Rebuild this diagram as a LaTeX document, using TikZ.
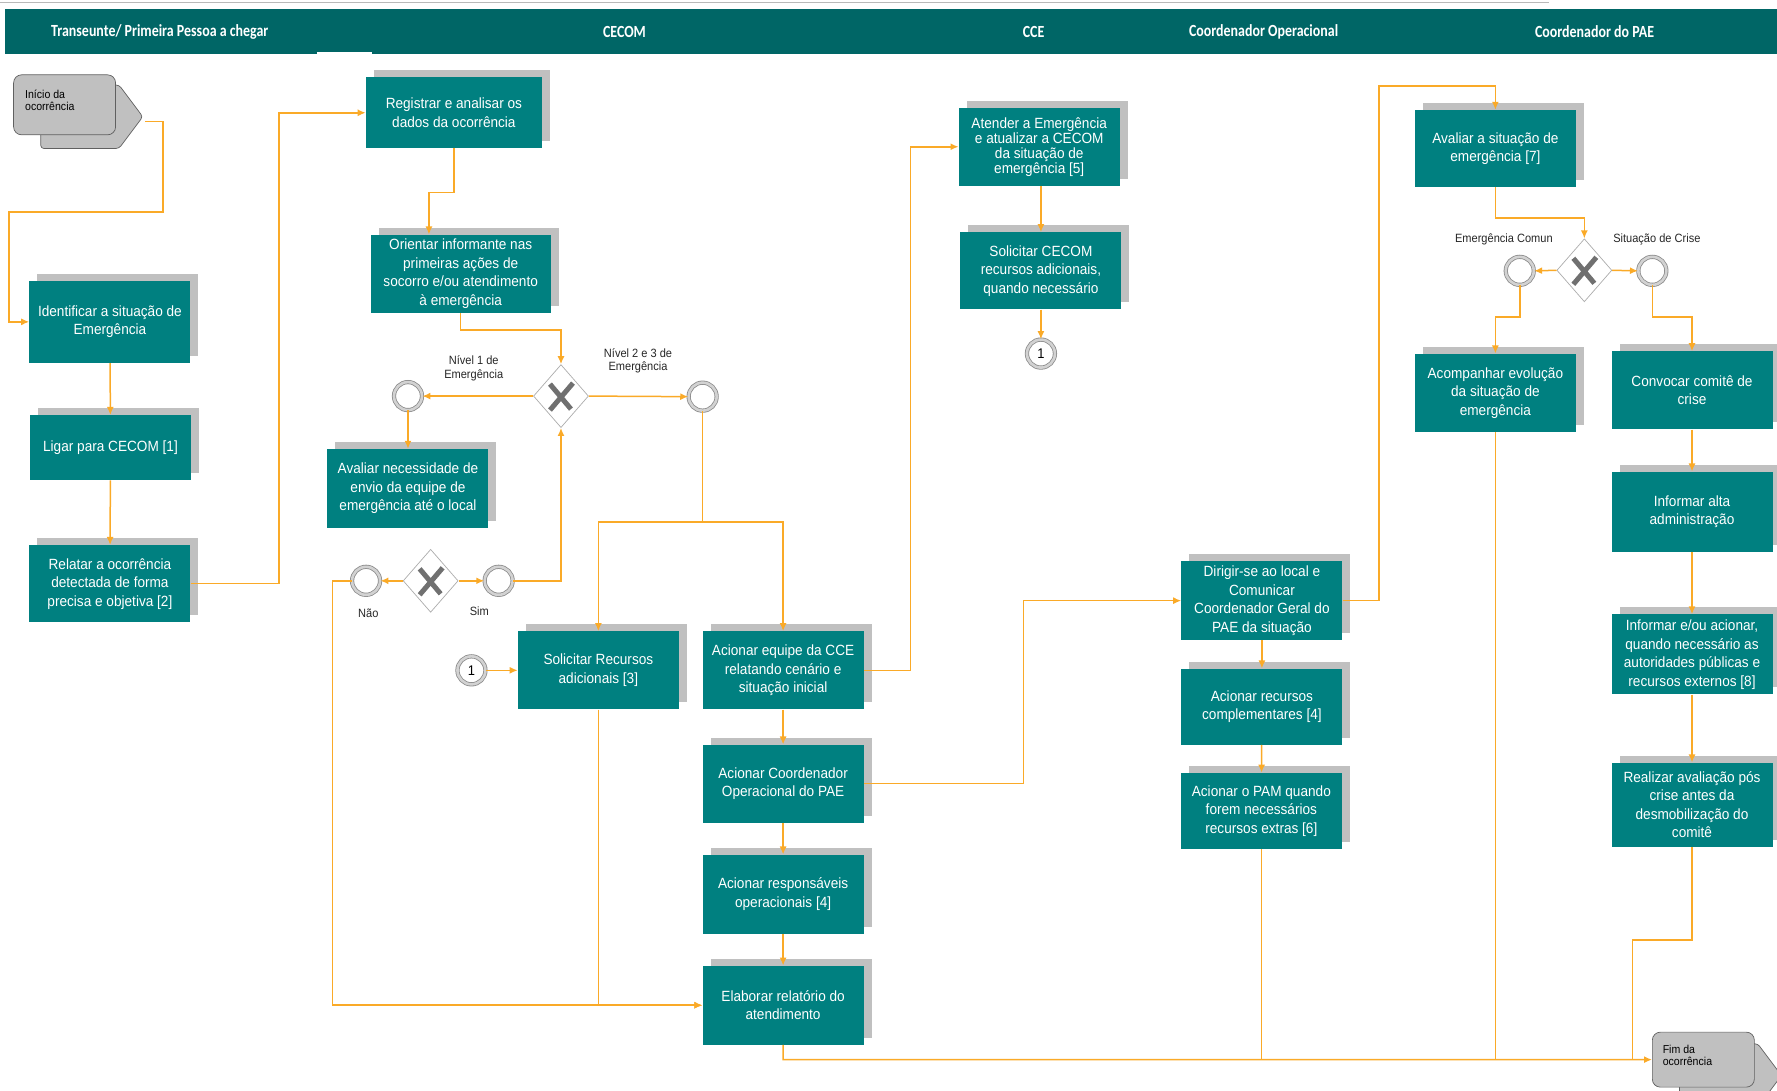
\documentclass[tikz,border=0pt]{standalone}
\usepackage{fontspec}
\setmainfont{Liberation Sans}
\newfontfamily\boxfont[FakeStretch=0.92]{Liberation Sans}
\newfontfamily\headfont[FakeStretch=0.82]{Carlito}
\usetikzlibrary{shapes.geometric,shadows,arrows.meta,calc}
\definecolor{headteal}{RGB}{0,102,102}
\definecolor{boxteal}{RGB}{0,128,128}
\definecolor{shadegray}{RGB}{192,192,192}
\definecolor{flowline}{RGB}{250,170,40}
\definecolor{gatex}{RGB}{112,112,112}
\begin{document}
\begin{tikzpicture}[x=1.1333pt,y=-1.1333pt,>={Latex[length=8pt,width=7pt]},
  task/.style={rectangle,fill=boxteal,text=white,align=center,inner sep=1pt,
    minimum width=161pt,minimum height=79pt,
    font=\boxfont\fontsize{14.8}{18.5}\selectfont,
    general shadow={fill=shadegray,shadow xshift=8pt,shadow yshift=7pt}},
  flow/.style={draw=flowline,line width=1.5pt,->},
  link/.style={draw=flowline,line width=1.5pt},
  evt/.style={circle,fill=white,draw=gray!90,double=gray!35,double distance=2.6pt,
    line width=0.8pt,minimum size=28pt,inner sep=0pt,font=\boxfont\fontsize{14}{16}\selectfont},
  gate/.style={diamond,fill=white,draw=gray!65,line width=0.7pt,minimum width=55pt,
    minimum height=63pt,inner sep=0pt,
    path picture={\draw[gatex,line width=5pt]
      ([shift={(-11pt,-14pt)}]path picture bounding box.center) -- ([shift={(12pt,13pt)}]path picture bounding box.center)
      ([shift={(-11pt,12pt)}]path picture bounding box.center) -- ([shift={(10pt,-13pt)}]path picture bounding box.center);}},
  lab/.style={font=\boxfont\fontsize{12}{13.5}\selectfont,align=center,text=black!85},
  lane/.style={font=\headfont\bfseries\fontsize{17}{20}\selectfont,text=white},
  term/.style={rectangle,rounded corners=8pt,fill=shadegray,draw=gray!75!black,
    line width=0.7pt,minimum width=102pt,minimum height=60pt},
  termback/.style={fill=shadegray,draw=gray!75!black,line width=0.7pt,rounded corners=3pt},
  termtxt/.style={font=\boxfont\fontsize{11.5}{12.5}\selectfont,align=left,anchor=north west,inner sep=0pt}]

  \useasboundingbox (0,0) rectangle (1568,962);
  \clip (0,0) rectangle (1568,962);
  \draw[gray!55,line width=1.5pt] (0,2) -- (1367,2);
  \fill[headteal] (4,8) rectangle (1568,48);
  \fill[white] (280,46) rectangle (328,48);
  \node[lane] (lane1) at (141,28) {Transeunte/ Primeira Pessoa a chegar};
  \node[lane] (lane2) at (551,28) {CECOM};
  \node[lane] (lane3) at (912,28) {CCE};
  \node[lane] (lane4) at (1115,28) {Coordenador Operacional};
  \node[lane] (lane5) at (1407,28) {Coordenador do PAE};

  \draw[termback] (36,75) -- (105,75) -- (126,103) -- (105,131) -- (36,131) -- cycle;
  \node[term] (inicio) at (57,92.5) {};
  \node[termtxt] (iniciotxt) at (22,79) {Início da\\ocorrência};
  \coordinate (iniciotip) at (128,107);

  \draw[termback] (1482,921) -- (1551,921) -- (1572,949) -- (1551,977) -- (1482,977) -- cycle;
  \node[term,minimum height=55pt] (fim) at (1503,935) {};
  \node[termtxt] (fimtxt) at (1467,922) {Fim da\\ocorrência};

  \node[task,minimum height=82pt] (identificar) at (97,284) {Identificar  a situação de\\Emergência};
  \node[task,minimum height=65pt] (ligar) at (97.5,395) {Ligar para CECOM [1]};
  \node[task,minimum height=77pt] (relatar) at (97,515) {Relatar  a ocorrência\\detectada de forma\\precisa e objetiva [2]};
  \node[task,minimum width=176pt,minimum height=71pt] (registrar) at (400.5,99.5) {Registrar e analisar os\\dados da ocorrência};
  \node[task,minimum width=180pt,minimum height=78pt] (orientar) at (406.5,241.5) {Orientar informante nas\\primeiras ações de\\socorro e/ou atendimento\\à emergência};
  \node[task] (avaliarnec) at (360,431) {Avaliar necessidade de\\envio da equipe de\\emergência até o local};
  \node[task,minimum height=78pt] (solicitar) at (528,591.5) {Solicitar Recursos\\adicionais [3]};
  \node[task,minimum height=78pt] (acequipe) at (691,591.5) {Acionar equipe da CCE\\relatando cenário e\\situação inicial};
  \node[task,minimum height=78pt] (accoord) at (691,691.5) {Acionar Coordenador\\Operacional do PAE};
  \node[task] (acresp) at (691,789) {Acionar responsáveis\\operacionais [4]};
  \node[task] (elaborar) at (691,887) {Elaborar relatório do\\atendimento};
  \node[task,minimum height=78pt,font=\boxfont\fontsize{14.8}{15}\selectfont] (atender) at (917,129.5) {Atender a Emergência\\e atualizar  a CECOM\\da situação de\\emergência [5]};
  \node[task,minimum height=77pt] (solcecom) at (918.5,239) {Solicitar CECOM\\recursos adicionais,\\quando necessário};
  \node[task] (dirigir) at (1113.5,530) {Dirigir-se ao local e\\Comunicar\\Coordenador Geral do\\PAE da situação};
  \node[task,minimum height=76pt] (acrecursos) at (1113.5,623.5) {Acionar recursos\\complementares [4]};
  \node[task,minimum height=76pt] (acpam) at (1113,715.5) {Acionar o PAM quando\\forem necessários\\recursos extras [6]};
  \node[task,minimum height=77pt] (avaliarsit) at (1319.5,131) {Avaliar a situação de\\emergência [7]};
  \node[task,minimum height=78pt] (acompanhar) at (1319.5,346.5) {Acompanhar evolução\\da situação de\\emergência};
  \node[task,minimum height=78pt] (convocar) at (1493,344.5) {Convocar  comitê de\\crise};
  \node[task,minimum height=80pt] (infalta) at (1493,451.5) {Informar  alta\\administração};
  \node[task,minimum height=80pt] (infaut) at (1493,577.5) {Informar e/ou acionar,\\quando necessário as\\autoridades públicas e\\recursos externos  [8]};
  \node[task,minimum height=84pt] (realizar) at (1493,710) {Realizar avaliação pós\\crise antes da\\desmobilização do\\comitê};

  \node[gate] (g1) at (495,349.5) {};
  \node[gate] (g2) at (380,512.5) {};
  \node[gate] (g3) at (1398,238.5) {};
  \node[evt] (c1) at (360,349.5) {};
  \node[evt] (c2) at (620,350) {};
  \node[evt] (cnao) at (323,512.5) {};
  \node[evt] (csim) at (440,512.5) {};
  \node[evt] (ccom) at (1341,239) {};
  \node[evt] (ccrise) at (1458,239) {};
  \node[evt] (one1) at (918.5,312) {1};
  \node[evt] (one2) at (416,591.5) {1};

  \node[lab] (lbniv1) at (418,325) {Nível 1 de\\Emergência};
  \node[lab] (lbniv2) at (563,318.5) {Nível 2 e 3 de\\Emergência};
  \node[lab] (lbnao) at (325,541) {Não};
  \node[lab] (lbsim) at (423,539) {Sim};
  \node[lab] (lbcomum) at (1327,211) {Emergência Comun};
  \node[lab] (lbcrise) at (1462,211) {Situação de Crise};

  \draw[flow] (iniciotip) -| (144,187) -| (8,284) -- (identificar.west);
  \draw[flow] (identificar) -- (ligar);
  \draw[flow] (ligar) -- (relatar);
  \draw[flow] (relatar.east) -- ++(78,0) |- (registrar.west);
  \draw[flow] (registrar.south) -- ++(0,39) -| ($(orientar.north)+(-28,0)$);
  \draw[flow] (orientar.south) -- ++(0,15) -| (g1.north);
  \draw[flow] (g1.west) -- (c1.east);
  \draw[flow] (g1.east) -- (c2.west);
  \draw[flow] (c1.south) -- (avaliarnec.north);
  \draw[flow] (g2.west) -- (cnao.east);
  \draw[flow] (g2.east) -- (csim.west);
  \draw[flow] (csim.east) -| (g1.south);
  \draw[flow] (cnao.west) -- ++(-17,0) |- (elaborar.west);
  \draw[link] (c2.south) -- ++(0,98) coordinate (split);
  \draw[flow] (split) -| (solicitar.north);
  \draw[flow] (split) -| (acequipe.north);
  \draw[flow] (one2.east) -- (solicitar.west);
  \draw[flow] (solicitar.south) |- (elaborar.west);
  \draw[flow] (acequipe) -- (accoord);
  \draw[flow] (accoord) -- (acresp);
  \draw[flow] (acresp) -- (elaborar);
  \draw[flow] (acequipe.east) -- ++(41,0) |- (atender.west);
  \draw[flow] (accoord.east) -- ++(141,0) |- (dirigir.west);
  \draw[flow] (atender.south -| solcecom.north) -- (solcecom.north);
  \draw[flow] (solcecom.south) -- (one1.north);
  \draw[flow] (dirigir.east) -- ++(32,0) |- ($(avaliarsit.north)+(0,-21)$) -- (avaliarsit.north);
  \draw[flow] (dirigir) -- (acrecursos);
  \draw[flow] (acrecursos) -- (acpam);
  \draw[flow] (elaborar.south) -- ++(0,13) -- (fim.west);
  \draw[link] (acpam.south) -- (acpam.south |- fim.west);
  \draw[flow] (avaliarsit.south) -- ++(0,27) -| (g3.north);
  \draw[flow] (g3.west) -- (ccom.east);
  \draw[flow] (g3.east) -- (ccrise.west);
  \draw[flow] (ccom.south) -- ++(0,28) -| (acompanhar.north);
  \draw[flow] (ccrise.south) -- ++(0,28) -| (convocar.north);
  \draw[link] (acompanhar.south) -- (acompanhar.south |- fim.west);
  \draw[flow] (convocar) -- (infalta);
  \draw[flow] (infalta) -- (infaut);
  \draw[flow] (infaut) -- (realizar);
  \draw[link] (realizar.south) -- ++(0,82) -| ($(fim.west)+(-17,0)$);
\end{tikzpicture}
\end{document}
